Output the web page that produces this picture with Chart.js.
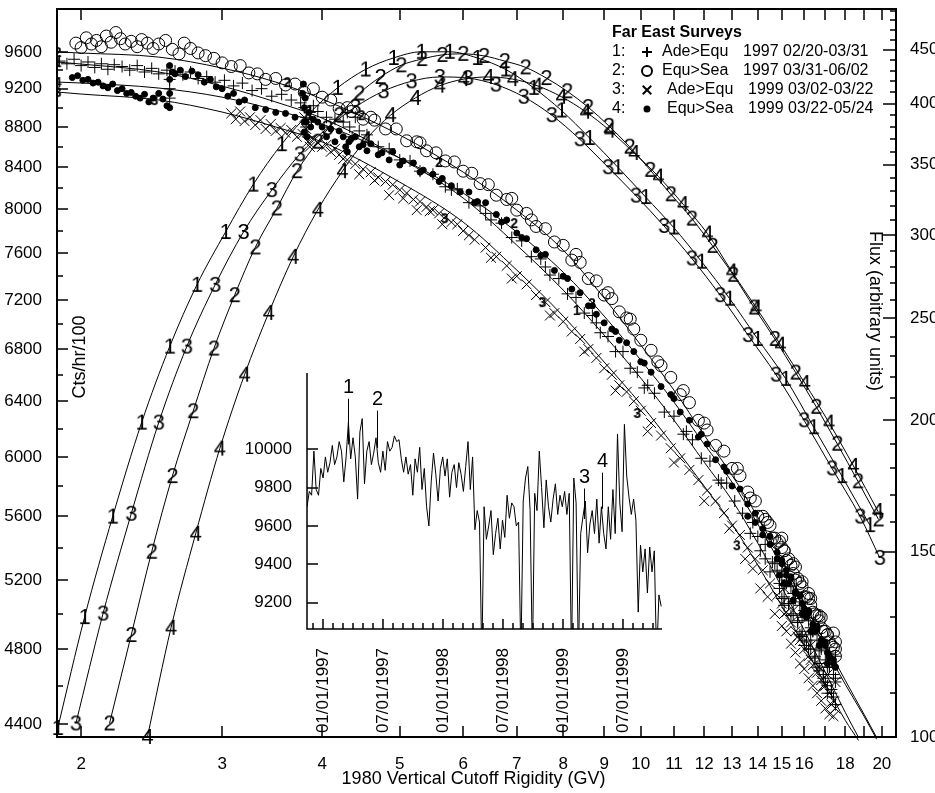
<!DOCTYPE html>
<html>
<head>
<meta charset="utf-8">
<script src="https://cdn.jsdelivr.net/npm/chart.js@4.4.1/dist/chart.umd.min.js"></script>
<style>
  html, body { margin: 0; padding: 0; background: #fff; }
  #marco { position: relative; width: 935px; height: 793px; }
  #principal { position: absolute; left: 0; top: 0; }
  #inserto { position: absolute; left: 240px; top: 365px; }
</style>
</head>
<body>
<div id="marco">
  <canvas id="principal" width="935" height="793"></canvas>
  <canvas id="inserto" width="430" height="370"></canvas>
</div>
<script>
var FUENTE = '"Liberation Sans", Arial, sans-serif';

// Ejes del grafico principal
var xTicks = [2,3,4,5,6,7,8,9,10,11,12,13,14,15,16,17,18,19,20];
var xLabels = [2,3,4,5,6,7,8,9,10,11,12,13,14,15,16,18,20];
var cuentaTicks = [4400,4600,4800,5000,5200,5400,5600,5800,6000,6200,6400,6600,6800,7000,7200,7400,7600,7800,8000,8200,8400,8600,8800,9000,9200,9400,9600];
var cuentaLabels = [4400,4800,5200,5600,6000,6400,6800,7200,7600,8000,8400,8800,9200,9600];
var flujoTicks = [100,110,120,130,140,150,160,170,180,190,200,210,220,230,240,250,260,270,280,290,300,310,320,330,340,350,360,370,380,390,400,410,420,430,440,450,460,470,480,490];
var flujoLabels = [100,150,200,250,300,350,400,450];

// Serie 1: + Ade>Equ 1997
var r1 = [1.88,1.92,1.96,2.0,2.04,2.08,2.12,2.16,2.2,2.25,
  2.3,2.35,2.4,2.45,2.5,2.56,2.58,2.58,2.58,2.62,
  2.68,2.74,2.8,2.87,2.94,3.02,3.1,3.18,3.27,3.36,
  3.46,3.56,3.66,3.76,3.8,3.82,3.82,3.84,3.86,3.88,
  3.9,3.95,4.05,4.15,4.25,4.3,4.33,4.36,4.4,4.45,
  4.55,4.7,4.85,5.0,5.15,5.3,5.5,5.7,5.9,6.1,
  6.3,6.5,6.7,6.9,7.1,7.3,7.5,7.7,7.9,8.1,
  8.3,8.5,8.7,8.9,9.1,9.3,9.5,9.7,9.9,10.1,
  10.4,10.7,11.0,11.3,11.6,11.9,12.2,12.5,12.8,13.1,
  13.4,13.7,14.0,14.3,14.6,14.9,15.1,15.3,15.5,15.7,
  15.9,16.1,16.3,16.5,16.7,16.9,17.1,17.3,17.5,
  14.8,15.0,15.2,15.4,15.6,15.8,16.0,16.2,16.4,16.6,
  16.8,17.0,17.2,17.4,15.1,15.5,15.9,16.3,16.7,17.1];
var c1 = [9500,9470,9520,9450,9490,9430,9470,9410,9460,9440,
  9400,9450,9380,9420,9360,9400,9300,9200,9100,9390,
  9350,9380,9310,9330,9270,9290,9230,9260,9180,9200,
  9120,9140,9080,9050,9000,8900,8800,8700,8950,8850,
  9020,8960,8900,8880,8850,8950,8800,8700,8900,8760,
  8720,8600,8580,8470,8460,8360,8330,8210,8190,8060,
  8030,7900,7870,7740,7710,7570,7550,7410,7380,7250,
  7220,7090,7070,6930,6900,6780,6780,6650,6620,6500,
  6460,6320,6290,6160,6120,5990,5970,5840,5820,5700,
  5620,5490,5470,5330,5310,5180,5170,5060,5070,4950,
  4980,4850,4880,4750,4790,4660,4700,4580,4620,
  5260,5090,5180,4990,5090,4880,4990,4800,4900,4700,
  4800,4620,4700,4540,5050,5120,4870,4920,4680,4560];
var r1b = [13.8,14.1,14.3,14.5,14.7,14.9,15.0,15.1,15.2,15.3,
  15.4,15.5,15.6,15.7,15.8,15.9,16.0,16.1,16.2,16.3,
  16.4,16.5,16.6,16.7,16.8,16.9,17.0,17.1,17.2,17.3,
  17.4,17.5,17.5,17.5,16.0,15.0,5.8,6.4,7.6,8.8,
  10.2,11.4,12.6];
var c1b = [5560,5380,5420,5250,5300,5150,5250,5100,5200,5060,
  5160,5000,5120,4960,5050,4900,5020,4840,4960,4800,
  4900,4760,4850,4720,4810,4640,4740,4600,4700,4560,
  4660,4500,4640,4760,4820,5220,8180,7960,7480,7010,
  6520,6180,5820];

// Serie 2: O Equ>Sea 1997
var r2 = [1.97,2.0,2.03,2.06,2.09,2.12,2.15,2.18,2.21,2.24,
  2.27,2.31,2.35,2.38,2.42,2.46,2.5,2.55,2.6,2.65,
  2.69,2.74,2.8,2.86,2.93,3.0,3.08,3.16,3.24,3.32,
  3.4,3.5,3.6,3.7,3.8,3.9,4.0,4.1,4.2,4.35,
  4.5,4.65,4.8,4.95,5.1,5.25,5.4,5.55,5.7,5.85,
  6.0,6.15,6.3,6.45,6.6,6.8,7.0,7.2,7.4,7.6,
  7.8,8.0,8.2,8.4,8.6,8.8,9.0,9.2,9.4,9.6,
  9.8,10.0,10.3,10.6,10.9,11.2,11.5,11.8,12.1,12.4,
  12.7,13.0,13.3,13.6,13.9,14.2,14.5,14.8,15.0,15.2,
  15.4,15.6,15.8,16.0,16.2,16.4,16.6,16.8,17.0,17.2,
  17.4,15.1,15.5,15.9,16.3,16.7,17.1,17.5,17.5,14.7];
var c2 = [9700,9650,9760,9690,9730,9660,9780,9710,9820,9750,
  9690,9720,9660,9740,9700,9640,9690,9730,9630,9580,
  9700,9640,9590,9560,9530,9480,9440,9450,9370,9360,
  9300,9310,9240,9250,9160,9200,9110,9080,8990,8960,
  8880,8870,8780,8780,8660,8650,8560,8540,8460,8450,
  8360,8340,8240,8230,8130,8090,7990,7960,7840,7820,
  7700,7670,7540,7520,7380,7360,7240,7210,7100,7050,
  6960,6870,6790,6670,6580,6450,6390,6260,6190,6080,
  6040,5920,5870,5760,5700,5600,5540,5430,5400,5320,
  5290,5200,5180,5100,5090,5010,4990,4920,4900,4840,
  4810,5380,5240,5160,5050,4960,4880,4760,4840,5460];
var r2b = [13.7,14.0,14.3,14.6,14.9,15.1,15.3,15.5,15.7,15.9,
  16.1,16.3,16.5,16.7,16.9,17.1,17.3,17.5,15.0,15.6,
  16.2,16.8,17.4,14.4,4.3,4.6,5.3,6.9,7.3,8.3,
  9.1,9.7,10.5,11.3,12.0,13.2];
var c2b = [5720,5600,5580,5460,5440,5380,5330,5300,5210,5190,
  5100,5090,5000,4990,4900,4880,4820,4800,5460,5280,
  5120,4980,4890,5560,9000,8900,8640,8100,7900,7590,
  7260,7040,6700,6480,6240,5920];

// Serie 3: x Ade>Equ 1999
var r3 = [3.08,3.12,3.16,3.2,3.25,3.3,3.35,3.4,3.45,3.5,
  3.55,3.6,3.66,3.72,3.78,3.8,3.82,3.84,3.86,3.9,
  3.95,4.0,4.05,4.1,4.15,4.2,4.3,4.4,4.5,4.6,
  4.7,4.8,4.9,5.0,5.1,5.2,5.3,5.4,5.5,5.6,
  5.7,5.8,5.9,6.0,6.2,6.4,6.6,6.8,7.0,7.2,
  7.4,7.6,7.8,8.0,8.2,8.4,8.6,8.8,9.0,9.2,
  9.4,9.6,9.8,10.0,10.3,10.6,10.9,11.2,11.5,11.8,
  12.1,12.4,12.7,13.0,13.3,13.6,13.9,14.2,14.5,14.8,
  15.0,15.2,15.4,15.6,15.8,16.0,16.2,16.4,16.6,16.8,
  17.0,17.2,17.4,15.1,15.5,15.9,16.3,16.7,17.1,17.5];
var c3 = [8940,8880,8960,8860,8900,8820,8870,8780,8830,8760,
  8790,8740,8770,8700,8730,8900,8780,8650,8600,8680,
  8640,8600,8620,8550,8580,8520,8470,8430,8380,8350,
  8300,8260,8230,8180,8150,8090,8070,8020,7990,7960,
  7930,7880,7860,7800,7720,7650,7570,7490,7400,7330,
  7240,7180,7090,7020,6940,6880,6800,6730,6650,6600,
  6520,6470,6400,6330,6240,6150,6060,5990,5910,5840,
  5770,5700,5620,5540,5480,5400,5330,5260,5180,5110,
  5060,5010,4950,4900,4850,4800,4760,4710,4670,4630,
  4600,4560,4520,5150,5020,4870,4820,4700,4660,4620];
var r3b = [13.5,13.8,14.1,14.4,14.7,15.0,15.2,15.4,15.6,15.8,
  16.0,16.2,16.4,16.6,16.8,17.0,17.2,17.4,17.5,15.1,
  15.7,16.3,16.9,17.3,4.25,4.45,4.65,4.85,5.05,5.25,
  5.45,5.65,6.1,6.5,6.9,7.7,8.5,9.3,10.2,11.0,
  12.0,12.9];
var c3b = [5330,5270,5150,5100,5000,4930,4900,4830,4780,4720,
  4690,4640,4600,4560,4520,4480,4450,4440,4480,5000,
  4870,4740,4600,4500,8480,8330,8270,8130,8100,7990,
  7980,7860,7760,7560,7380,7070,6780,6480,6180,5960,
  5700,5520];

// Serie 4: puntos Equ>Sea 1999
var r4 = [1.95,1.98,2.01,2.04,2.07,2.1,2.13,2.16,2.19,2.22,
  2.25,2.28,2.31,2.34,2.37,2.4,2.43,2.46,2.5,2.53,
  2.56,2.58,2.58,2.58,2.58,2.6,2.62,2.66,2.7,2.75,
  2.8,2.85,2.9,2.95,3.0,3.05,3.1,3.15,3.2,3.3,
  3.4,3.5,3.6,3.7,3.78,3.8,3.82,3.83,3.85,3.87,
  3.9,3.95,4.0,4.1,4.2,4.25,4.28,4.3,4.32,4.4,
  4.5,4.6,4.75,4.9,5.05,5.2,5.35,5.5,5.65,5.8,
  5.95,6.1,6.25,6.4,6.6,6.8,7.0,7.2,7.4,7.6,
  7.8,8.0,8.2,8.4,8.6,8.8,9.0,9.2,9.4,9.6,
  9.8,10.0,10.3,10.6,10.9,11.2,11.5,11.8,12.1,12.4,
  12.7,13.0,13.3,13.6,13.9,14.2,14.5,14.8,15.0,15.2,
  15.4,15.6,15.8,16.0,16.2,16.4,16.6,16.8,17.0,17.2,
  17.4,15.1,15.5,15.9,16.3,16.7,17.1,17.5,14.9,16.1];
var c4 = [9320,9340,9290,9300,9260,9270,9230,9210,9250,9180,
  9200,9150,9160,9120,9100,9140,9060,9100,9150,9090,
  9020,9450,9300,9150,9000,9380,9360,9400,9330,9390,
  9350,9270,9300,9220,9200,9120,9150,9060,9080,9000,
  8980,8950,8940,8900,9150,9000,8850,8700,8950,8800,
  8880,8850,8800,8780,8760,8700,8600,8550,8650,8700,
  8620,8630,8540,8550,8460,8440,8370,8330,8290,8220,
  8160,8160,8070,8060,7950,7900,7780,7730,7630,7590,
  7450,7400,7290,7260,7150,7080,7010,6960,6870,6850,
  6780,6700,6620,6510,6450,6320,6260,6140,6090,5980,
  5930,5800,5780,5680,5620,5520,5470,5370,5320,5260,
  5220,5120,5110,5010,5020,4920,4930,4830,4840,4750,
  4740,5180,5080,5000,4900,4820,4720,4700,5230,4980];
var r4b = [13.6,13.9,14.2,14.5,14.8,15.0,15.2,15.4,15.6,15.8,
  16.0,16.2,16.4,16.6,16.8,17.0,17.2,17.4,17.5,15.3,
  15.9,16.5,17.1,4.05,4.15,4.35,4.45,4.55,4.7,4.85,
  5.0,5.3,5.6,6.2,6.7,7.1,7.5,8.1,8.7,9.3,
  10.1,11.0,11.9,12.8,3.79,3.81,3.8,3.8];
var c4b = [5600,5560,5480,5420,5330,5300,5230,5210,5130,5110,
  5030,5010,4940,4910,4850,4820,4760,4720,4700,5180,
  5060,4900,4780,8700,8650,8680,8600,8560,8520,8470,
  8420,8350,8260,8060,7880,7740,7580,7380,7150,6940,
  6690,6420,6160,5900,9250,9100,8850,8750];

// Curvas de ajuste (cuentas)
var ajusteR24 = [1.87,2,2.5,3,3.5,4,5,6,7,8,9,10,11,12,13,14,15,16,17,18,19,19.7];
var ajuste2 = [9600,9589,9544,9423,9271,9090,8718,8351,7990,7627,7214,6831,6483,6153,5873,5594,5321,5062,4833,4629,4450,4332];
var ajuste4 = [9271,9261,9207,9110,8974,8830,8488,8150,7789,7435,7065,6713,6394,6089,5826,5549,5285,5033,4805,4608,4440,4323];
var ajusteR13 = [1.87,2,2.5,3,3.5,4,5,6,7,8,9,10,11,12,13,14,15,16,17,18,18.7];
var ajuste1 = [9489,9467,9380,9228,9059,8891,8488,8103,7672,7282,6911,6574,6261,5963,5705,5428,5157,4906,4672,4460,4332];
var ajuste3 = [9164,9143,9080,8954,8800,8648,8254,7880,7453,7065,6698,6378,6075,5799,5549,5291,5045,4815,4608,4419,4317];

// Etiquetas pequenas sobre las curvas de ajuste
var etq1R = [1.87,8.32], etq1C = [9489,7115];
var etq2R = [1.87,3.62,4.48,5.6,6.95,8.69], etq2C = [9600,9271,8922,8449,7871,7172];
var etq3R = [1.87,2.47,5.69,7.54,9.9,13.18], etq3C = [9164,9079,7916,7181,6313,5415];
var etq4R = [1.87], etq4C = [9271];

// Curvas de flujo (eje derecho)
var arco1R = [1.87,2.02,2.19,2.38,2.58,2.79,3.03,3.28,3.56,3.86,4.18,4.53,4.91,5.32,5.77,6.25,6.78,7.35,7.96,8.63,9.36,10.14,10.99,11.91,12.91,13.99,15.17,16.44,17.83,19.32];
var arco1F = [102,130,162,199,235,269,302,335,366,392,414,431,442,448,448,442,431,414,394,371,348,326,305,283,261,239,219,197,177,159];
var arco2R = [2.17,2.31,2.45,2.60,2.76,2.93,3.11,3.30,3.51,3.72,3.95,4.20,4.45,4.73,5.02,5.33,5.65,6.00,6.37,6.76,7.18,7.62,8.09,8.59,9.12,9.68,10.27,10.90,11.58,12.29,13.04,13.85,14.70,15.61,16.56,17.59,18.67,19.81];
var arco2F = [103,125,150,177,204,234,263,292,318,345,368,390,409,424,435,441,445,446,444,439,433,423,411,397,381,364,346,328,311,293,275,256,239,222,206,190,175,161];
var arco3R = [1.97,2.13,2.31,2.50,2.71,2.94,3.19,3.46,3.75,4.06,4.40,4.77,5.17,5.61,6.08,6.59,7.14,7.74,8.39,9.10,9.86,10.69,11.58,12.56,13.61,14.75,15.99,17.33,18.79,19.88];
var arco3F = [103,131,163,199,235,269,302,331,358,379,397,411,420,424,423,417,406,390,370,348,327,306,285,263,241,221,200,180,162,148];
var arco4R = [2.42,2.59,2.78,2.98,3.20,3.43,3.68,3.95,4.24,4.54,4.87,5.23,5.61,6.01,6.45,6.92,7.42,7.96,8.53,9.15,9.81,10.52,11.29,12.11,12.99,13.93,14.94,16.02,17.18,18.43,19.77];
var arco4F = [100,127,156,188,221,253,286,317,345,370,390,405,416,422,424,422,416,406,393,377,359,341,321,301,277,256,236,217,199,181,164];

// Leyenda
var leyNum = ['1:', '2:', '3:', '4:'];
var leyNombre = ['Ade>Equ', 'Equ>Sea', 'Ade>Equ', 'Equ>Sea'];
var leyFecha = ['1997 02/20-03/31', '1997 03/31-06/02', '1999 03/02-03/22', '1999 03/22-05/24'];

// Grafico insertado: cuentas semanales
var insetInicio = 1996.867;
var insetPaso = 7 / 365.25;
var insetCuentas = [
  9700,9780,9760,9990,9790,9760,9900,9850,9960,9880,
  9930,10020,9920,9960,10040,9990,9830,9960,10140,9950,
  10060,9960,9740,10090,10160,9820,9990,10040,9920,9980,
  10060,9930,9880,9990,9890,10040,9990,10010,10070,10040,
  10050,9950,9880,9960,9870,9920,9760,9950,9880,10010,
  9790,9900,9700,9600,9830,9980,9870,9730,9900,9960,
  9860,9950,9750,9880,9920,9800,9930,9870,9780,9910,
  10040,9790,9960,9580,9680,9620,8900,9700,9530,9600,
  9680,9450,9560,9640,9480,9630,9540,9760,9640,9720,
  9700,9600,9620,8900,9730,9850,9910,9680,8900,9770,
  9680,9990,9800,9590,9840,9700,9620,9740,9820,9660,
  9760,9700,9780,9660,9770,8900,9850,9720,8900,9560,
  9650,9730,9460,9610,9680,9560,9740,9510,9700,9560,
  9480,9700,9530,9790,9560,10080,9720,9570,10130,9860,
  9750,9660,9740,9630,9150,9500,9360,9480,9250,9490,
  9360,9470,8900,9240,9180];
var insetYTicks = [9200,9400,9600,9800,10000];
var insetFechas = [1997, 1997.5, 1998, 1998.5, 1999, 1999.5];
var insetTextos = ['01/01/1997','07/01/1997','01/01/1998','07/01/1998','01/01/1999','07/01/1999'];
var anotFecha = [1997.211, 1997.447, 1999.175, 1999.325];
var anotBaja = [10025, 10007, 9636, 9689];
var anotAlta = [10264, 10202, 9795, 9878];
var anotTexto = ['1', '2', '3', '4'];

function puntos(xs, ys) {
    return xs.map(function(x, i) { return { x: x, y: ys[i] }; });
}

// Crea un canvas con un numero para usarlo como marcador
function marcaTexto(txt, size, bold) {
    var c = document.createElement('canvas');
    var ctx = c.getContext('2d');
    var font = (bold ? 'bold ' : '') + size + 'px ' + FUENTE;
    ctx.font = font;
    var w = Math.ceil(ctx.measureText(txt).width) + 2;
    var h = size + 2;
    c.width = w;
    c.height = h;
    ctx.font = font;
    ctx.fillStyle = '#000';
    ctx.textAlign = 'center';
    ctx.textBaseline = 'middle';
    ctx.fillText(txt, w / 2, h / 2 + 1);
    return c;
}

function dispersion(xs, ys, estilo, radio, relleno) {
    return {
        data: puntos(xs, ys), yAxisID: 'yL', showLine: false,
        pointStyle: estilo, pointRadius: radio, pointBorderWidth: 1,
        pointBorderColor: '#000', pointBackgroundColor: relleno
    };
}

function curva(xs, ys, eje, marca) {
    return {
        data: puntos(xs, ys), yAxisID: eje, showLine: true,
        borderColor: '#000', borderWidth: 1, cubicInterpolationMode: 'monotone',
        pointStyle: marca || 'circle', pointRadius: marca ? 4 : 0, clip: 12
    };
}

function etiquetas(xs, ys, txt) {
    return {
        data: puntos(xs, ys), yAxisID: 'yL', showLine: false,
        pointStyle: marcaTexto(txt, 14, true), pointRadius: 4
    };
}

var decoPrincipal = {
    id: 'decoPrincipal',
    afterDatasetsDraw: function(chart) {
        var ctx = chart.ctx, a = chart.chartArea;
        var sx = chart.scales.x, sl = chart.scales.yL, sr = chart.scales.yR;
        ctx.save();
        ctx.strokeStyle = '#000';
        ctx.lineWidth = 1.5;
        ctx.beginPath();
        xTicks.forEach(function(v) {
            var px = Math.round(sx.getPixelForValue(v));
            ctx.moveTo(px, a.bottom); ctx.lineTo(px, a.bottom - 11);
            ctx.moveTo(px, a.top); ctx.lineTo(px, a.top + 11);
        });
        cuentaTicks.forEach(function(v) {
            var py = Math.round(sl.getPixelForValue(v));
            var len = cuentaLabels.indexOf(v) >= 0 ? 11 : 6;
            ctx.moveTo(a.left, py); ctx.lineTo(a.left + len, py);
        });
        flujoTicks.forEach(function(v) {
            var py = Math.round(sr.getPixelForValue(v));
            var len = flujoLabels.indexOf(v) >= 0 ? 13 : 6;
            ctx.moveTo(a.right, py); ctx.lineTo(a.right - len, py);
        });
        ctx.stroke();
        ctx.lineWidth = 2;
        ctx.strokeRect(a.left, a.top, a.right - a.left, a.bottom - a.top);

        // Titulos de ejes
        ctx.fillStyle = '#000';
        ctx.font = '18px ' + FUENTE;
        ctx.textAlign = 'center';
        ctx.textBaseline = 'middle';
        ctx.fillText('1980 Vertical Cutoff Rigidity (GV)', (a.left + a.right) / 2 - 3, a.bottom + 42);
        ctx.save();
        ctx.translate(a.left + 23, 357);
        ctx.rotate(-Math.PI / 2);
        ctx.fillText('Cts/hr/100', 0, 0);
        ctx.restore();
        ctx.save();
        ctx.translate(a.right - 21, 311);
        ctx.rotate(Math.PI / 2);
        ctx.fillText('Flux (arbitrary units)', 0, 0);
        ctx.restore();

        // Leyenda
        var lx = a.right - 284, ly = a.top + 24;
        ctx.textAlign = 'left';
        ctx.font = 'bold 16px ' + FUENTE;
        ctx.fillText('Far East Surveys', lx, ly);
        ctx.font = '16px ' + FUENTE;
        var simbolos = [
            { pointStyle: 'cross', radius: 5, borderWidth: 1.5 },
            { pointStyle: 'circle', radius: 5, borderWidth: 1.5 },
            { pointStyle: 'crossRot', radius: 6, borderWidth: 1.5 },
            { pointStyle: 'circle', radius: 2.5, borderWidth: 1 }
        ];
        for (var i = 0; i < 4; i++) {
            var y = ly + 19 * (i + 1);
            var dx = i < 2 ? 0 : 5;
            ctx.fillText(leyNum[i], lx, y);
            ctx.fillStyle = i === 3 ? '#000' : 'rgba(0,0,0,0)';
            Chart.helpers.drawPoint(ctx, simbolos[i], lx + 35, y);
            ctx.fill();
            ctx.fillStyle = '#000';
            ctx.fillText(leyNombre[i], lx + 50 + dx, y);
            ctx.fillText(leyFecha[i], lx + 131 + dx, y);
        }
        ctx.restore();
    }
};

var marcas = {
    '1': marcaTexto('1', 22, false), '2': marcaTexto('2', 22, false),
    '3': marcaTexto('3', 22, false), '4': marcaTexto('4', 22, false)
};

var escalaTicks = { color: '#000', font: { size: 17, family: FUENTE }, autoSkip: false, maxRotation: 0 };

new Chart(document.getElementById('principal'), {
    type: 'scatter',
    data: {
        datasets: [
            etiquetas(etq1R, etq1C, '1'),
            etiquetas(etq2R, etq2C, '2'),
            etiquetas(etq3R, etq3C, '3'),
            etiquetas(etq4R, etq4C, '4'),
            curva(ajusteR13, ajuste1, 'yL'),
            curva(ajusteR24, ajuste2, 'yL'),
            curva(ajusteR13, ajuste3, 'yL'),
            curva(ajusteR24, ajuste4, 'yL'),
            curva(arco1R, arco1F, 'yR', marcas['1']),
            curva(arco2R, arco2F, 'yR', marcas['2']),
            curva(arco3R, arco3F, 'yR', marcas['3']),
            curva(arco4R, arco4F, 'yR', marcas['4']),
            dispersion(r1.concat(r1b), c1.concat(c1b), 'cross', 6, 'rgba(0,0,0,0)'),
            dispersion(r2.concat(r2b), c2.concat(c2b), 'circle', 6, 'rgba(0,0,0,0)'),
            dispersion(r3.concat(r3b), c3.concat(c3b), 'crossRot', 7, 'rgba(0,0,0,0)'),
            dispersion(r4.concat(r4b), c4.concat(c4b), 'circle', 3, '#000')
        ]
    },
    options: {
        responsive: false, animation: false, devicePixelRatio: 1,
        layout: { padding: { top: 9, left: 0, right: 0, bottom: 0 } },
        plugins: { legend: { display: false }, tooltip: { enabled: false } },
        scales: {
            x: {
                type: 'logarithmic', position: 'bottom', min: 1.866, max: 20.83,
                grid: { display: false }, border: { display: false },
                ticks: Object.assign({}, escalaTicks, { padding: 9, callback: function(v) { return xLabels.indexOf(v) >= 0 ? String(v) : ''; } }),
                afterBuildTicks: function(s) { s.ticks = xTicks.map(function(v) { return { value: v }; }); },
                afterFit: function(s) { s.height = 56; s.paddingLeft = 0; s.paddingRight = 0; }
            },
            yL: {
                type: 'logarithmic', position: 'left', min: 4334, max: 10092,
                grid: { display: false }, border: { display: false },
                ticks: Object.assign({}, escalaTicks, { padding: 7, callback: function(v) { return cuentaLabels.indexOf(v) >= 0 ? String(v) : ''; } }),
                afterBuildTicks: function(s) { s.ticks = cuentaTicks.map(function(v) { return { value: v }; }); },
                afterFit: function(s) { s.width = 57; s.paddingTop = 0; s.paddingBottom = 0; }
            },
            yR: {
                type: 'logarithmic', position: 'right', min: 100, max: 492,
                grid: { display: false }, border: { display: false },
                ticks: Object.assign({}, escalaTicks, { padding: 6, callback: function(v) { return flujoLabels.indexOf(v) >= 0 ? String(v) : ''; } }),
                afterBuildTicks: function(s) { s.ticks = flujoTicks.map(function(v) { return { value: v }; }); },
                afterFit: function(s) { s.width = 39; s.paddingTop = 0; s.paddingBottom = 0; }
            }
        }
    },
    plugins: [decoPrincipal]
});

// Ticks mensuales del grafico insertado
var mesesTicks = [];
for (var an = 1996; an <= 1999; an++) {
    for (var m = 0; m < 12; m++) {
        var t = an + m / 12;
        if (t > insetInicio && t < 1999.825) mesesTicks.push(t);
    }
}

function esEtiqueta(v) {
    for (var k = 0; k < insetFechas.length; k++) {
        if (Math.abs(v - insetFechas[k]) < 1e-6) return k;
    }
    return -1;
}

var decoInserto = {
    id: 'decoInserto',
    afterDatasetsDraw: function(chart) {
        var ctx = chart.ctx, a = chart.chartArea;
        var sx = chart.scales.x, sy = chart.scales.y;
        ctx.save();
        ctx.strokeStyle = '#000';
        ctx.lineWidth = 1.5;
        ctx.beginPath();
        ctx.moveTo(a.left, a.top); ctx.lineTo(a.left, a.bottom); ctx.lineTo(a.right, a.bottom);
        mesesTicks.forEach(function(v) {
            var px = Math.round(sx.getPixelForValue(v));
            var len = esEtiqueta(v) >= 0 ? 10 : 6;
            ctx.moveTo(px, a.bottom); ctx.lineTo(px, a.bottom - len);
        });
        insetYTicks.forEach(function(v) {
            var py = Math.round(sy.getPixelForValue(v));
            ctx.moveTo(a.left, py); ctx.lineTo(a.left + 11, py);
        });
        ctx.stroke();
        ctx.lineWidth = 1;
        ctx.fillStyle = '#000';
        ctx.font = '20px ' + FUENTE;
        ctx.textAlign = 'center';
        ctx.textBaseline = 'bottom';
        ctx.beginPath();
        for (var k = 0; k < anotFecha.length; k++) {
            var px = Math.round(sx.getPixelForValue(anotFecha[k])) + 0.5;
            var y2 = sy.getPixelForValue(anotAlta[k]);
            ctx.moveTo(px, sy.getPixelForValue(anotBaja[k]));
            ctx.lineTo(px, y2);
            ctx.fillText(anotTexto[k], px, y2 - 1);
        }
        ctx.stroke();
        ctx.restore();
    }
};

new Chart(document.getElementById('inserto'), {
    type: 'scatter',
    data: {
        datasets: [{
            data: insetCuentas.map(function(v, i) { return { x: insetInicio + i * insetPaso, y: v }; }),
            showLine: true, pointRadius: 0, borderColor: '#000', borderWidth: 1
        }]
    },
    options: {
        responsive: false, animation: false, devicePixelRatio: 1,
        layout: { padding: { top: 8, right: 8, left: 0, bottom: 0 } },
        plugins: { legend: { display: false }, tooltip: { enabled: false } },
        scales: {
            x: {
                type: 'linear', min: insetInicio, max: 1999.825,
                grid: { display: false }, border: { display: false },
                ticks: { color: '#000', font: { size: 17, family: FUENTE }, autoSkip: false,
                    minRotation: 90, maxRotation: 90, padding: 11,
                    callback: function(v) { var k = esEtiqueta(v); return k >= 0 ? insetTextos[k] : ''; } },
                afterBuildTicks: function(s) { s.ticks = mesesTicks.map(function(v) { return { value: v }; }); },
                afterFit: function(s) { s.height = 106; s.paddingLeft = 0; s.paddingRight = 0; }
            },
            y: {
                type: 'linear', min: 9062, max: 10398,
                grid: { display: false }, border: { display: false },
                ticks: { color: '#000', font: { size: 17, family: FUENTE }, autoSkip: false, padding: 7,
                    callback: function(v) { return String(v); } },
                afterBuildTicks: function(s) { s.ticks = insetYTicks.map(function(v) { return { value: v }; }); },
                afterFit: function(s) { s.width = 67; s.paddingTop = 0; s.paddingBottom = 0; }
            }
        }
    },
    plugins: [decoInserto]
});
</script>
</body>
</html>
